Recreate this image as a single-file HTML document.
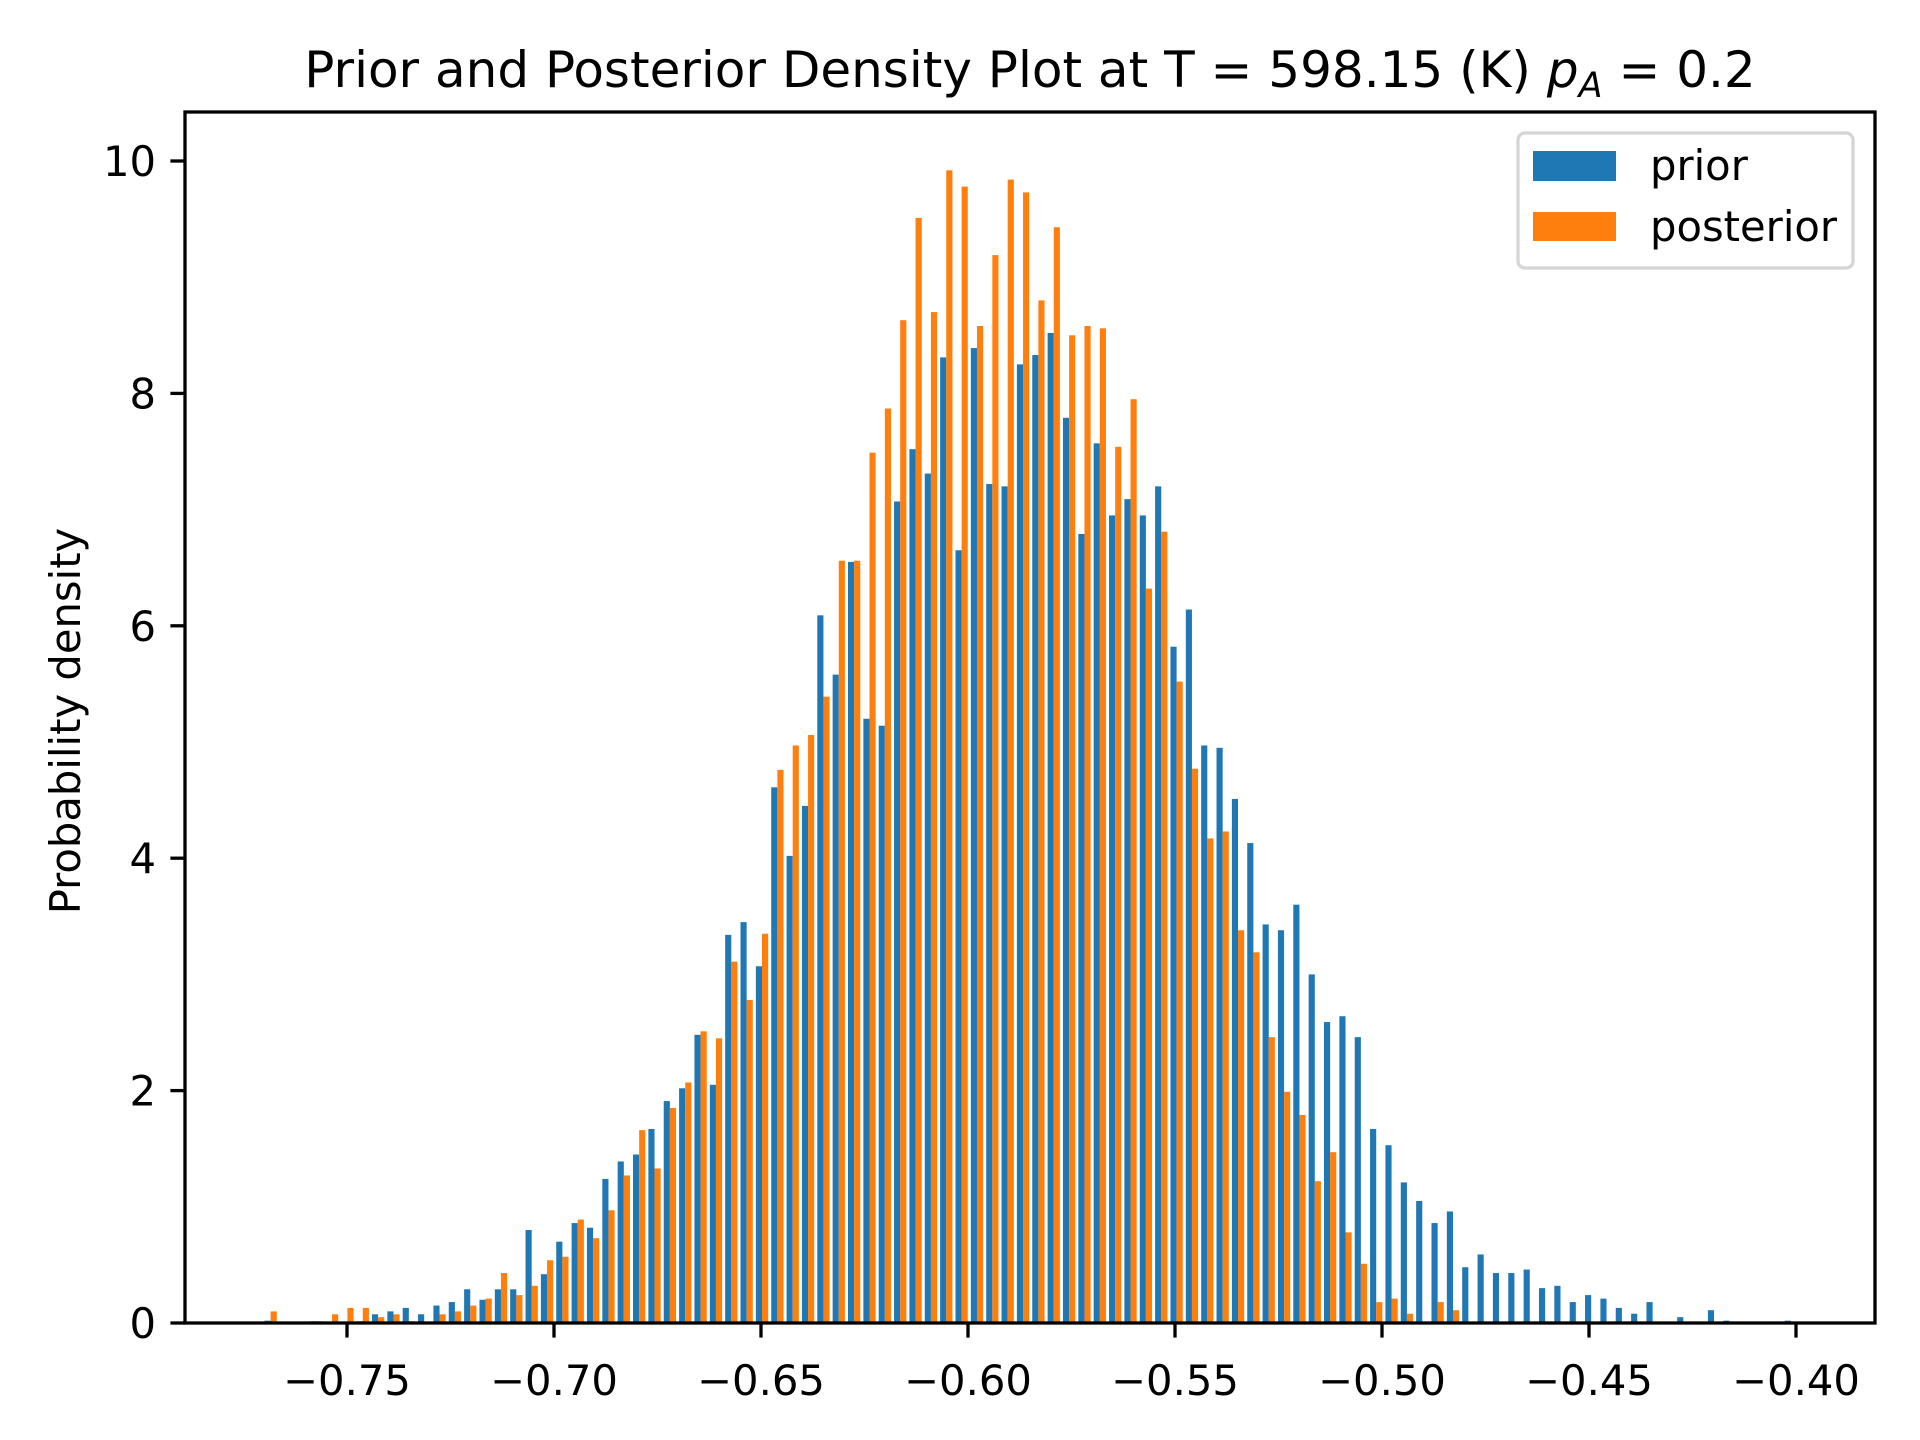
<!DOCTYPE html>
<html><head><meta charset="utf-8"><title>Prior and Posterior Density Plot</title>
<style>
html,body{margin:0;padding:0;background:#fff;}
body{width:1920px;height:1440px;overflow:hidden;}
svg{display:block;font-family:"DejaVu Sans","Liberation Sans",sans-serif;}
</style></head>
<body>
<svg id="chart" width="1920" height="1440" viewBox="0 0 1920 1440" xmlns="http://www.w3.org/2000/svg">
  <rect x="0" y="0" width="1920" height="1440" fill="#fff"/>
  <text x="1030" y="87" font-size="50" text-anchor="middle" fill="#000">Prior and Posterior Density Plot at T = 598.15 (K) <tspan font-style="italic">p</tspan><tspan font-style="italic" font-size="35" dy="10">A</tspan><tspan dy="-10"> = 0.2</tspan></text>
  <g id="bars"></g>
  <g id="axes"></g>
  <text transform="translate(80,721) rotate(-90)" font-size="41.7" text-anchor="middle" fill="#000">Probability density</text>
  <g>
    <rect x="1518" y="133" width="335" height="135" rx="7" fill="#fff" fill-opacity="0.8" stroke="#d5d5d5" stroke-width="3.3"/>
    <rect x="1533" y="151" width="83" height="30" fill="#1f77b4"/>
    <text x="1650" y="180" font-size="41.7" fill="#000">prior</text>
    <rect x="1533" y="212" width="83" height="29" fill="#ff7f0e"/>
    <text x="1650" y="241" font-size="41.7" fill="#000">posterior</text>
  </g>
</svg>
<script>
const binStart = -0.7703;
const binWidth = 0.003709;
const priorValues = [0.02,0,0,0.015,0,0,0.015,0.075,0.10,0.13,0.075,0.15,0.18,0.29,0.20,0.29,0.29,0.80,0.42,0.70,0.86,0.82,1.24,1.39,1.45,1.67,1.91,2.02,2.48,2.05,3.34,3.45,3.07,4.61,4.02,4.45,6.09,5.58,6.55,5.20,5.14,7.07,7.52,7.31,8.31,6.65,8.39,7.22,7.20,8.25,8.33,8.52,7.79,6.79,7.57,6.95,7.09,6.95,7.20,5.82,6.14,4.97,4.95,4.51,4.13,3.43,3.38,3.60,3.00,2.59,2.64,2.46,1.67,1.53,1.21,1.05,0.86,0.96,0.48,0.59,0.43,0.43,0.46,0.30,0.32,0.18,0.24,0.21,0.13,0.08,0.18,0,0.05,0,0.11,0.02,0,0,0,0.02];
const posteriorValues = [0.10,0,0,0.015,0.075,0.13,0.13,0.05,0.075,0.015,0,0.075,0.10,0.15,0.21,0.43,0.24,0.32,0.54,0.57,0.89,0.73,0.97,1.27,1.66,1.33,1.85,2.07,2.51,2.45,3.11,2.78,3.35,4.76,4.97,5.06,5.39,6.56,6.56,7.49,7.87,8.63,9.51,8.70,9.92,9.78,8.58,9.19,9.84,9.73,8.80,9.43,8.50,8.58,8.56,7.54,7.95,6.32,6.81,5.52,4.77,4.17,4.23,3.38,3.19,2.46,1.99,1.79,1.22,1.47,0.78,0.51,0.18,0.21,0.08,0,0.18,0.11,0,0,0,0,0,0,0,0,0,0,0,0,0,0,0,0,0,0,0,0,0,0];
const xTicks = [-0.75,-0.70,-0.65,-0.60,-0.55,-0.50,-0.45,-0.40];
const xTickLabels = ["\u22120.75","\u22120.70","\u22120.65","\u22120.60","\u22120.55","\u22120.50","\u22120.45","\u22120.40"];
const yTicks = [0,2,4,6,8,10];
const yTickLabels = ["0","2","4","6","8","10"];

const NS = "http://www.w3.org/2000/svg";
const AX = {left:185, right:1875, top:112, bottom:1323};
function xScale(v){ return 347 + (v + 0.75) * 4140; }
function yScale(v){ return 1323 - v * 116.2; }
function mk(tag, attrs, parent){
  const el = document.createElementNS(NS, tag);
  for (const k in attrs) el.setAttribute(k, attrs[k]);
  parent.appendChild(el);
  return el;
}
const barsG = document.getElementById('bars');
const axesG = document.getElementById('axes');

function drawSeries(values, offsetFrac, color, name){
  values.forEach(function(v, i){
    if (v <= 0) return;
    const left = binStart + binWidth * (i + offsetFrac);
    const x0 = xScale(left);
    const x1 = xScale(left + binWidth * 0.4);
    const r = mk('rect', {x:x0, y:yScale(v), width:x1 - x0, height:yScale(0) - yScale(v), fill:color}, barsG);
    
    
  });
}
drawSeries(priorValues, 0.1, '#1f77b4', 'prior');
drawSeries(posteriorValues, 0.5, '#ff7f0e', 'posterior');

const frame = mk('rect', {x:AX.left, y:AX.top, width:AX.right-AX.left, height:AX.bottom-AX.top, fill:'none', stroke:'#000', 'stroke-width':3.3}, axesG);



xTicks.forEach(function(t, i){
  const x = xScale(t);
  const tk = mk('line', {x1:x, x2:x, y1:AX.bottom, y2:AX.bottom+14.6, stroke:'#000', 'stroke-width':3.3}, axesG);
  
  
  const lb = mk('text', {x:x, y:AX.bottom+72, 'font-size':41.7, 'text-anchor':'middle', fill:'#000'}, axesG);
  lb.textContent = xTickLabels[i];
  
  
});
yTicks.forEach(function(t, i){
  const y = yScale(t);
  const tk = mk('line', {x1:AX.left-14.6, x2:AX.left, y1:y, y2:y, stroke:'#000', 'stroke-width':3.3}, axesG);
  
  
  const lb = mk('text', {x:AX.left-29, y:y+15, 'font-size':41.7, 'text-anchor':'end', fill:'#000'}, axesG);
  lb.textContent = yTickLabels[i];
  
  
});
</script>
</body></html>
